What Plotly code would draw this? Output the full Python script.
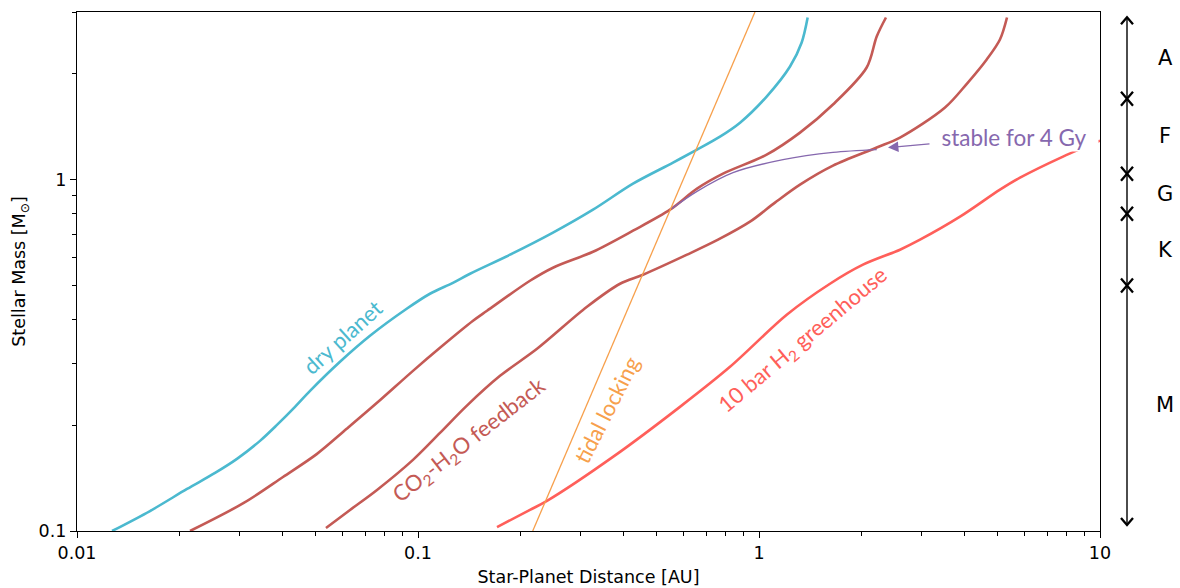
import numpy as np
import plotly.graph_objects as go

# ---------------- data ----------------
dry_dist = [0.01267, 0.01637, 0.02102, 0.02540, 0.02945, 0.03441, 0.03859, 0.04358, 0.04824,
            0.05905, 0.07231, 0.09264, 0.1084, 0.1266, 0.1421, 0.1862, 0.2488, 0.3260, 0.4271,
            0.5596, 0.6580, 0.7684, 0.8799, 1.053, 1.233, 1.334, 1.389]
dry_mass = [0.100, 0.1140, 0.1317, 0.1463, 0.1604, 0.1805, 0.2004, 0.2256, 0.2505,
            0.3031, 0.3594, 0.4290, 0.4734, 0.5086, 0.5398, 0.6115, 0.7066, 0.8213, 0.974,
            1.118, 1.218, 1.326, 1.453, 1.724, 2.099, 2.457, 2.894]

co2_up_dist = [0.02145, 0.03083, 0.04018, 0.05057, 0.06177, 0.07582, 0.09667, 0.1160, 0.1450,
               0.1594, 0.2130, 0.2488, 0.3260, 0.4271, 0.5483, 0.658, 0.7843, 1.053, 1.319,
               1.648, 2.069, 2.214, 2.357]
co2_up_mass = [0.100, 0.1202, 0.1425, 0.1658, 0.1953, 0.2316, 0.2856, 0.3322, 0.3965,
               0.4234, 0.5155, 0.5615, 0.6235, 0.7157, 0.8213, 0.9427, 1.040, 1.178, 1.361,
               1.636, 2.085, 2.555, 2.894]

co2_lo_dist = [0.05372, 0.06319, 0.07582, 0.09667, 0.1160, 0.1389, 0.1740, 0.2234, 0.3130,
               0.3913, 0.4569, 0.6151, 0.7583, 0.9410, 1.114, 1.319, 1.648, 2.214, 2.591,
               3.512, 4.074, 4.654, 5.089, 5.337]
co2_lo_mass = [0.1020, 0.1148, 0.1309, 0.1594, 0.1902, 0.2271, 0.2764, 0.3300, 0.4346,
               0.5054, 0.5363, 0.6115, 0.6746, 0.7592, 0.8601, 0.9677, 1.096, 1.234, 1.317,
               1.604, 1.877, 2.198, 2.505, 2.894]

h2_dist = [0.1705, 0.2130, 0.2389, 0.3730, 0.5864, 0.8222, 1.206, 1.615, 2.018, 2.591,
           2.966, 3.886, 5.089, 5.827, 7.790, 10.0]
h2_mass = [0.1026, 0.1148, 0.1218, 0.1625, 0.2256, 0.2933, 0.4125, 0.5054, 0.5727, 0.6318,
           0.6746, 0.7845, 0.9365, 1.013, 1.163, 1.291]

tidal_dist = [0.217, 0.973]
tidal_mass = [0.1, 3.0]

stable_dist = [0.5546, 0.658, 0.839, 1.176, 1.648, 2.214]
stable_mass = [0.8268, 0.9262, 1.047, 1.140, 1.196, 1.218]

spectral_types = ["A", "F", "G", "K", "M"]
spectral_upper = [2.9, 1.7, 1.04, 0.8, 0.5]
spectral_lower = [1.7, 1.04, 0.8, 0.5, 0.104]

x_tick_vals = [0.01, 0.1, 1, 10]
x_tick_text = ["0.01", "0.1", "1", "10"]
y_tick_vals = [0.1, 1]
y_tick_text = ["0.1", "1"]

# ---------------- styling ----------------
C_CYAN = "#4BB9CF"
C_DRED = "#C45A55"
C_BRED = "#FF5F5A"
C_ORNG = "#F7A04C"
C_PURP = "#8668AE"
LABEL_FONT = "Lato"
AX_FONT = "DejaVu Sans"
lg = np.log10

fig = go.Figure()

def curve(x, y, color, width):
    fig.add_trace(go.Scatter(x=x, y=y, mode="lines", showlegend=False, hoverinfo="skip",
                             line=dict(color=color, width=width, shape="spline", smoothing=0.9)))

curve(dry_dist, dry_mass, C_CYAN, 2.6)
curve(co2_up_dist, co2_up_mass, C_DRED, 2.6)
curve(co2_lo_dist, co2_lo_mass, C_DRED, 2.6)
curve(h2_dist, h2_mass, C_BRED, 2.6)
fig.add_trace(go.Scatter(x=tidal_dist, y=tidal_mass, mode="lines", showlegend=False,
                         hoverinfo="skip", line=dict(color=C_ORNG, width=1.3)))
curve(stable_dist, stable_mass, C_PURP, 1.3)

# spectral-type double arrows on a side axis (x2 in pixels from the plot edge)
SPINE, HW, HD = 27, 6.0, 7.0 / 351.0   # spine position, head half-width, head depth (decades)
sp_x, sp_y, hd_x, hd_y = [], [], [], []
for hi, lo in zip(spectral_upper, spectral_lower):
    sp_x += [SPINE, SPINE, None]
    sp_y += [hi, lo, None]
    hd_x += [SPINE - HW, SPINE, SPINE + HW, None]
    hd_y += [hi * 10 ** (-HD), hi, hi * 10 ** (-HD), None]
    hd_x += [SPINE - HW, SPINE, SPINE + HW, None]
    hd_y += [lo * 10 ** HD, lo, lo * 10 ** HD, None]
fig.add_trace(go.Scatter(x=sp_x, y=sp_y, xaxis="x2", yaxis="y", mode="lines",
                         line=dict(color="black", width=1.4), showlegend=False,
                         hoverinfo="skip", cliponaxis=False))
fig.add_trace(go.Scatter(x=hd_x, y=hd_y, xaxis="x2", yaxis="y", mode="lines",
                         line=dict(color="black", width=2.3), showlegend=False,
                         hoverinfo="skip", cliponaxis=False))

annotations = []
# curve labels
labels = [
    ("dry planet", 0.06026, 0.3570, 42, C_CYAN),
    ("CO<sub>2</sub>-H<sub>2</sub>O feedback", 0.1420, 0.1816, 38, C_DRED),
    ("tidal locking", 0.3582, 0.2211, 63, C_ORNG),
    ("10 bar H<sub>2</sub> greenhouse", 1.3490, 0.3500, 40, C_BRED),
]
for txt, xv, yv, ang, col in labels:
    annotations.append(dict(text=txt, x=lg(xv), y=lg(yv), xref="x", yref="y",
                            showarrow=False, textangle=-ang, xanchor="center", yanchor="middle",
                            font=dict(family=LABEL_FONT, size=22, color=col)))

# stable for 4 Gy: white-boxed label with arrow to the curve end
annotations.append(dict(text="stable for 4 Gy", x=0.3783, y=0.0912, xref="x", yref="y",
                        ax=0.7478, ay=0.1225, axref="x", ayref="y",
                        showarrow=True, arrowhead=2, arrowsize=1.6, arrowwidth=1.3,
                        arrowcolor=C_PURP, width=168, height=28, borderpad=0,
                        bgcolor="white", align="center",
                        font=dict(family=LABEL_FONT, size=22.5, color=C_PURP)))

for name, hi, lo in zip(spectral_types, spectral_upper, spectral_lower):
    annotations.append(dict(text=name, x=65, y=lg(np.sqrt(hi * lo)), xref="x2", yref="y",
                            showarrow=False, xanchor="center", yanchor="middle",
                            font=dict(family=AX_FONT, size=21, color="black")))

fig.update_layout(
    width=1180, height=588,
    margin=dict(l=77, r=0, t=12, b=57),
    plot_bgcolor="white", paper_bgcolor="white",
    annotations=annotations,
    xaxis=dict(type="log", range=[-2, 1], domain=[0, 1023 / 1103], automargin=False,
               tickvals=x_tick_vals, ticktext=x_tick_text,
               ticks="outside", ticklen=6, tickwidth=1.3, tickcolor="black",
               minor=dict(ticks="outside", ticklen=3.5, tickwidth=1, tickcolor="black",
                          tickvals=[m * 10.0 ** e for e in (-2, -1, 0) for m in range(2, 10)]),
               showline=True, linecolor="black", linewidth=1.3, mirror=True,
               showgrid=False, zeroline=False,
               tickfont=dict(family=AX_FONT, size=17.5, color="black"),
               title=dict(text="Star-Planet Distance [AU]", standoff=8,
                          font=dict(family=AX_FONT, size=17.5, color="black"))),
    yaxis=dict(type="log", range=[-1, lg(3.0)], automargin=False,
               tickvals=y_tick_vals, ticktext=y_tick_text,
               ticks="outside", ticklen=6, tickwidth=1.3, tickcolor="black",
               minor=dict(ticks="outside", ticklen=3.5, tickwidth=1, tickcolor="black",
                          tickvals=[0.2, 0.3, 0.4, 0.5, 0.6, 0.7, 0.8, 0.9, 2, 3]),
               showline=True, linecolor="black", linewidth=1.3, mirror=True,
               showgrid=False, zeroline=False,
               tickfont=dict(family=AX_FONT, size=17.5, color="black"),
               title=dict(text="Stellar Mass [M<sub>⊙</sub>]", standoff=8,
                          font=dict(family=AX_FONT, size=17.5, color="black"))),
    xaxis2=dict(domain=[1023 / 1103, 1], range=[0, 80], anchor="y", visible=False,
                automargin=False, fixedrange=True),
)

fig.write_html("out.html")
